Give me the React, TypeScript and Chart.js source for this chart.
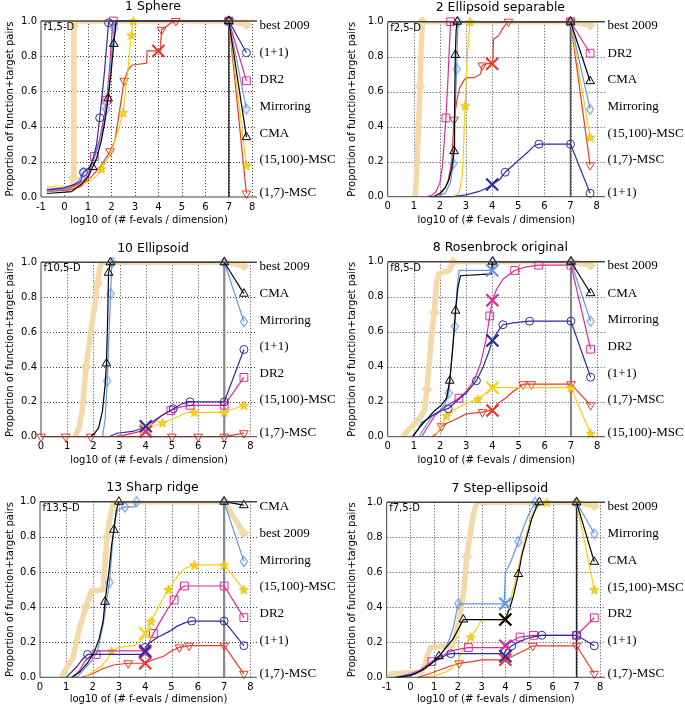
import React, { useEffect, useRef } from 'react';
import { Chart, registerables } from 'chart.js';

Chart.register(...registerables);

type Pt = [number, number];

// ---------- shared data ----------
const Y_TICKS = [0, 0.2, 0.4, 0.6, 0.8, 1.0];
const X_TICKS_M1 = [-1, 0, 1, 2, 3, 4, 5, 6, 7, 8];
const X_TICKS_0 = [0, 1, 2, 3, 4, 5, 6, 7, 8];
const BUDGET_X = 7;      // vertical line / start of right-hand segments
const TAIL_X = 7.75;     // end of right-hand segments
const CROSS_X = 4;       // position of the big crosses
const LABEL_Y = [0.975, 0.82, 0.667, 0.514, 0.362, 0.21, 0.023];
// series order: best 2009, (1+1), DR2, Mirroring, CMA, (15,100)-MSC, (1,7)-MSC

// ---------- f1 Sphere ----------
const F1_BEST: Pt[] = [[-0.75, 0.05], [0.36, 0.05], [0.38, 0.11], [0.4, 0.97], [0.45, 1.0], [7, 1.0]];
const F1_BEST_MK: Pt[] = [[0.38, 0.11], [0.4, 0.97]];
const F1_ONE: Pt[] = [[-0.75, 0.04], [-0.1, 0.05], [0.4, 0.07], [0.69, 0.09], [0.81, 0.14], [1.08, 0.17], [1.22, 0.22], [1.37, 0.3], [1.5, 0.45], [1.62, 0.6], [1.71, 0.72], [1.79, 0.85], [1.88, 0.99], [1.94, 1.0], [7, 1.0]];
const F1_ONE_MK: Pt[] = [[0.81, 0.14], [1.5, 0.45], [1.88, 0.99]];
const F1_DR2: Pt[] = [[-0.75, 0.04], [0.2, 0.05], [0.69, 0.08], [1.0, 0.12], [1.27, 0.23], [1.5, 0.33], [1.68, 0.45], [1.8, 0.55], [1.93, 0.75], [2.02, 0.92], [2.08, 1.0], [7, 1.0]];
const F1_DR2_MK: Pt[] = [[1.27, 0.23], [1.8, 0.55], [2.08, 1.0]];
const F1_MIRR: Pt[] = [[-0.75, 0.03], [0.2, 0.05], [0.59, 0.09], [0.81, 0.14], [1.08, 0.17], [1.27, 0.22], [1.47, 0.3], [1.66, 0.4], [1.78, 0.5], [1.91, 0.65], [2.0, 0.8], [2.12, 0.96], [2.2, 1.0], [7, 1.0]];
const F1_MIRR_MK: Pt[] = [[0.81, 0.14], [1.78, 0.5], [2.12, 0.96]];
const F1_CMA: Pt[] = [[-0.75, 0.02], [0.3, 0.03], [0.49, 0.05], [0.79, 0.08], [1.03, 0.12], [1.2, 0.17], [1.37, 0.22], [1.57, 0.32], [1.71, 0.42], [1.86, 0.56], [1.98, 0.7], [2.1, 0.87], [2.2, 1.0], [7, 1.0]];
const F1_CMA_MK: Pt[] = [[1.2, 0.17], [1.86, 0.56], [2.1, 0.87]];
const F1_M15: Pt[] = [[-0.75, 0.04], [0.2, 0.05], [0.69, 0.07], [1.08, 0.09], [1.37, 0.12], [1.58, 0.16], [1.86, 0.22], [2.1, 0.3], [2.3, 0.38], [2.5, 0.48], [2.6, 0.6], [2.7, 0.72], [2.79, 0.85], [2.85, 0.92], [2.93, 1.0], [7, 1.0]];
const F1_M15_MK: Pt[] = [[1.58, 0.16], [2.5, 0.48], [2.85, 0.92], [2.93, 1.0]];
const F1_M17: Pt[] = [[-0.75, 0.03], [0.2, 0.04], [0.69, 0.06], [1.18, 0.12], [1.57, 0.18], [1.94, 0.26], [2.15, 0.32], [2.3, 0.45], [2.54, 0.66], [2.7, 0.72], [2.88, 0.75], [3.5, 0.76], [3.52, 0.83], [4.07, 0.83], [4.1, 0.88], [4.14, 0.95], [4.35, 0.97], [4.55, 0.99], [4.74, 1.0], [7, 1.0]];
const F1_M17_MK: Pt[] = [[1.94, 0.26], [2.54, 0.66], [4.14, 0.95], [4.74, 1.0]];
const F1_END = [0.98, 0.82, 0.66, 0.5, 0.34, 0.18, 0.02];
const F1_CROSS = [null, null, null, null, null, null, 0.83];
const F1_LABELS = ['best 2009', '(1+1)', 'DR2', 'Mirroring', 'CMA', '(15,100)-MSC', '(1,7)-MSC'];

// ---------- f2 Ellipsoid separable ----------
const F2_BEST: Pt[] = [[1.05, 0.0], [1.1, 0.1], [1.17, 0.35], [1.24, 0.63], [1.28, 0.85], [1.33, 1.0], [7, 1.0]];
const F2_BEST_MK: Pt[] = [[1.24, 0.63], [1.33, 1.0]];
const F2_ONE: Pt[] = [[1.6, 0.0], [2.5, 0.0], [3.0, 0.01], [3.5, 0.03], [3.8, 0.05], [4.0, 0.07], [4.3, 0.1], [4.5, 0.14], [4.8, 0.18], [5.1, 0.22], [5.4, 0.26], [5.6, 0.29], [5.79, 0.3], [7, 0.3]];
const F2_ONE_MK: Pt[] = [[4.5, 0.14], [5.79, 0.3]];
const F2_DR2: Pt[] = [[1.5, 0.0], [1.7, 0.01], [1.85, 0.03], [2.0, 0.08], [2.1, 0.18], [2.23, 0.45], [2.3, 0.65], [2.36, 0.85], [2.41, 1.0], [7, 1.0]];
const F2_DR2_MK: Pt[] = [[2.23, 0.45], [2.41, 1.0]];
const F2_MIRR: Pt[] = [[1.9, 0.0], [2.2, 0.02], [2.4, 0.08], [2.51, 0.19], [2.56, 0.4], [2.64, 0.73], [2.67, 0.9], [2.7, 1.0], [7, 1.0]];
const F2_MIRR_MK: Pt[] = [[2.51, 0.19], [2.64, 0.73], [2.7, 1.0]];
const F2_CMA: Pt[] = [[1.75, 0.0], [2.0, 0.02], [2.2, 0.05], [2.35, 0.1], [2.45, 0.16], [2.54, 0.26], [2.56, 0.5], [2.59, 0.81], [2.62, 0.95], [2.66, 1.0], [7, 1.0]];
const F2_CMA_MK: Pt[] = [[2.54, 0.26], [2.59, 0.81], [2.66, 1.0]];
const F2_M15: Pt[] = [[2.6, 0.0], [2.75, 0.03], [2.85, 0.12], [2.9, 0.25], [2.96, 0.52], [3.05, 0.8], [3.15, 1.0], [7, 1.0]];
const F2_M15_MK: Pt[] = [[2.96, 0.52], [3.15, 1.0]];
const F2_M17: Pt[] = [[1.95, 0.0], [2.1, 0.03], [2.3, 0.08], [2.45, 0.2], [2.54, 0.44], [2.65, 0.55], [2.75, 0.62], [2.9, 0.66], [3.0, 0.68], [3.3, 0.68], [3.55, 0.7], [3.62, 0.75], [3.8, 0.76], [4.02, 0.76], [4.05, 0.9], [4.25, 0.92], [4.4, 0.96], [4.5, 0.98], [4.62, 1.0], [7, 1.0]];
const F2_M17_MK: Pt[] = [[2.54, 0.44], [3.62, 0.75], [4.62, 1.0]];
const F2_END = [0.98, 0.02, 0.82, 0.5, 0.66, 0.34, 0.18];
const F2_CROSS = [null, 0.07, null, null, null, null, 0.76];
const F2_LABELS = ['best 2009', 'DR2', 'CMA', 'Mirroring', '(15,100)-MSC', '(1,7)-MSC', '(1+1)'];

// ---------- f10 Ellipsoid ----------
const F10_BEST: Pt[] = [[1.3, 0.0], [1.45, 0.05], [1.58, 0.15], [1.72, 0.4], [1.9, 0.6], [2.05, 0.75], [2.16, 0.88], [2.25, 0.97], [2.32, 1.0], [7, 1.0]];
const F10_BEST_MK: Pt[] = [[1.72, 0.4], [2.16, 0.88]];
const F10_ONE: Pt[] = [[2.6, 0.0], [2.9, 0.02], [3.5, 0.03], [3.9, 0.05], [4.0, 0.06], [4.3, 0.09], [4.6, 0.12], [5.05, 0.16], [5.4, 0.19], [5.69, 0.2], [7, 0.2]];
const F10_ONE_MK: Pt[] = [[5.05, 0.16], [5.69, 0.2]];
const F10_DR2: Pt[] = [[2.8, 0.0], [3.2, 0.01], [3.8, 0.03], [4.0, 0.04], [4.3, 0.08], [4.6, 0.12], [4.96, 0.15], [5.3, 0.17], [5.69, 0.18], [7, 0.18]];
const F10_DR2_MK: Pt[] = [[4.96, 0.15], [5.69, 0.18]];
const F10_MIRR: Pt[] = [[2.35, 0.0], [2.45, 0.1], [2.53, 0.32], [2.6, 0.6], [2.66, 0.82], [2.7, 0.98], [2.73, 1.0], [7, 1.0]];
const F10_MIRR_MK: Pt[] = [[2.53, 0.32], [2.66, 0.82], [2.73, 1.0]];
const F10_CMA: Pt[] = [[1.9, 0.0], [2.05, 0.02], [2.2, 0.05], [2.35, 0.15], [2.45, 0.3], [2.5, 0.42], [2.55, 0.7], [2.58, 0.94], [2.65, 1.0], [7, 1.0]];
const F10_CMA_MK: Pt[] = [[2.5, 0.42], [2.58, 0.94], [2.65, 1.0]];
const F10_M15: Pt[] = [[3.0, 0.0], [3.5, 0.02], [4.0, 0.04], [4.3, 0.06], [4.64, 0.08], [5.0, 0.1], [5.3, 0.12], [5.6, 0.14], [7, 0.14]];
const F10_M15_MK: Pt[] = [[4.64, 0.08], [5.85, 0.14]];
const F10_M17: Pt[] = [[0, 0], [7, 0]];
const F10_M17_MK: Pt[] = [[0, 0], [0.94, 0], [1.9, 0], [5.0, 0], [6.0, 0]];
const F10_END = [0.98, 0.5, 0.34, 0.66, 0.82, 0.18, 0.02];
const F10_CROSS = [null, 0.06, 0.03, null, null, 0.04, null];
const F10_LABELS = ['best 2009', 'CMA', 'Mirroring', '(1+1)', 'DR2', '(15,100)-MSC', '(1,7)-MSC'];

// ---------- f8 Rosenbrock original ----------
const F8_BEST: Pt[] = [[0.55, 0.0], [0.75, 0.03], [1.0, 0.07], [1.2, 0.1], [1.4, 0.15], [1.5, 0.27], [1.6, 0.45], [1.7, 0.62], [1.78, 0.71], [1.86, 0.88], [1.95, 0.93], [2.35, 0.95], [2.5, 1.0], [7, 1.0]];
const F8_BEST_MK: Pt[] = [[1.5, 0.27], [1.78, 0.71], [2.5, 1.0]];
const F8_ONE: Pt[] = [[0.95, 0.0], [1.15, 0.04], [1.3, 0.08], [1.5, 0.1], [1.8, 0.13], [2.05, 0.15], [2.31, 0.16], [2.6, 0.2], [3.0, 0.25], [3.39, 0.32], [3.65, 0.4], [3.85, 0.48], [4.0, 0.55], [4.2, 0.6], [4.4, 0.64], [4.8, 0.65], [5.42, 0.66], [7, 0.66]];
const F8_ONE_MK: Pt[] = [[2.31, 0.16], [3.39, 0.32], [4.4, 0.64], [5.42, 0.66]];
const F8_DR2: Pt[] = [[1.3, 0.0], [1.5, 0.05], [1.8, 0.12], [2.1, 0.16], [2.4, 0.19], [2.72, 0.22], [3.0, 0.26], [3.3, 0.32], [3.55, 0.42], [3.75, 0.55], [3.9, 0.69], [4.0, 0.78], [4.15, 0.84], [4.4, 0.9], [4.85, 0.95], [5.3, 0.97], [5.77, 0.98], [7, 0.98]];
const F8_DR2_MK: Pt[] = [[2.72, 0.22], [3.9, 0.69], [4.85, 0.95], [5.77, 0.98]];
const F8_MIRR: Pt[] = [[1.2, 0.0], [1.4, 0.05], [1.7, 0.12], [2.0, 0.15], [2.2, 0.19], [2.33, 0.25], [2.45, 0.45], [2.56, 0.63], [2.65, 0.85], [2.73, 0.95], [4.0, 0.95], [4.02, 1.0], [7, 1.0]];
const F8_MIRR_MK: Pt[] = [[2.33, 0.25], [2.56, 0.63], [4.02, 1.0]];
const F8_CMA: Pt[] = [[0.95, 0.0], [1.2, 0.05], [1.5, 0.1], [1.8, 0.15], [2.05, 0.18], [2.25, 0.22], [2.37, 0.32], [2.48, 0.5], [2.59, 0.72], [2.68, 0.85], [2.78, 0.92], [3.96, 0.93], [4.0, 1.0], [7, 1.0]];
const F8_CMA_MK: Pt[] = [[2.37, 0.32], [2.59, 0.72], [4.0, 1.0]];
const F8_M15: Pt[] = [[1.8, 0.0], [2.0, 0.05], [2.25, 0.12], [2.6, 0.16], [3.0, 0.19], [3.45, 0.215], [3.75, 0.25], [4.0, 0.28], [7, 0.28]];
const F8_M15_MK: Pt[] = [[2.25, 0.12], [3.45, 0.215]];
const F8_M17: Pt[] = [[1.7, 0.0], [1.95, 0.03], [2.06, 0.06], [2.3, 0.08], [2.6, 0.1], [3.0, 0.13], [3.62, 0.14], [3.9, 0.15], [4.0, 0.15], [4.2, 0.19], [4.5, 0.22], [4.8, 0.26], [5.0, 0.28], [5.17, 0.3], [7, 0.3]];
const F8_M17_MK: Pt[] = [[2.06, 0.06], [3.62, 0.14], [5.17, 0.3], [5.49, 0.3]];
const F8_END = [0.98, 0.34, 0.5, 0.66, 0.82, 0.02, 0.18];
const F8_CROSS = [null, 0.55, 0.78, 0.95, null, 0.28, 0.15];
const F8_LABELS = ['best 2009', 'CMA', 'Mirroring', 'DR2', '(1+1)', '(1,7)-MSC', '(15,100)-MSC'];

// ---------- f13 Sharp ridge ----------
const F13_BEST: Pt[] = [[0.8, 0.0], [1.0, 0.05], [1.25, 0.11], [1.5, 0.28], [1.75, 0.4], [1.95, 0.49], [2.4, 0.5], [2.45, 0.6], [2.55, 0.8], [2.65, 0.9], [2.8, 1.0], [7, 1.0]];
const F13_BEST_MK: Pt[] = [[1.75, 0.4], [2.55, 0.8]];
const F13_ONE: Pt[] = [[1.0, 0.0], [1.2, 0.03], [1.4, 0.06], [1.6, 0.1], [1.81, 0.13], [3.95, 0.13], [4.0, 0.17], [4.2, 0.2], [4.5, 0.23], [4.9, 0.26], [5.2, 0.29], [5.5, 0.31], [5.77, 0.32], [7, 0.32]];
const F13_ONE_MK: Pt[] = [[1.81, 0.13], [4.0, 0.17], [5.77, 0.32]];
const F13_DR2: Pt[] = [[1.3, 0.0], [1.5, 0.04], [1.7, 0.09], [1.9, 0.12], [2.13, 0.13], [2.2, 0.15], [4.0, 0.15], [4.15, 0.2], [4.31, 0.25], [4.5, 0.3], [4.7, 0.35], [4.9, 0.4], [5.1, 0.44], [5.3, 0.5], [5.49, 0.52], [7, 0.52]];
const F13_DR2_MK: Pt[] = [[2.13, 0.13], [4.31, 0.25], [5.1, 0.44], [5.49, 0.52]];
const F13_MIRR: Pt[] = [[1.4, 0.0], [1.7, 0.05], [2.0, 0.1], [2.2, 0.16], [2.4, 0.3], [2.55, 0.45], [2.64, 0.54], [2.75, 0.75], [2.85, 0.9], [2.95, 0.95], [3.23, 0.97], [3.6, 0.97], [3.67, 1.0], [7, 1.0]];
const F13_MIRR_MK: Pt[] = [[2.64, 0.54], [3.23, 0.97], [3.67, 1.0]];
const F13_CMA: Pt[] = [[1.2, 0.0], [1.5, 0.03], [1.8, 0.08], [2.05, 0.14], [2.25, 0.22], [2.4, 0.32], [2.47, 0.43], [2.62, 0.6], [2.72, 0.75], [2.81, 0.84], [2.9, 0.95], [3.0, 1.0], [7, 1.0]];
const F13_CMA_MK: Pt[] = [[2.47, 0.43], [2.81, 0.84], [3.0, 1.0]];
const F13_M15: Pt[] = [[1.7, 0.0], [2.0, 0.03], [2.3, 0.06], [2.55, 0.1], [2.72, 0.15], [3.0, 0.17], [3.6, 0.18], [3.85, 0.21], [4.0, 0.25], [4.22, 0.32], [4.5, 0.4], [4.88, 0.5], [5.2, 0.57], [5.5, 0.62], [5.87, 0.64], [7, 0.64]];
const F13_M15_MK: Pt[] = [[2.72, 0.15], [4.22, 0.32], [4.88, 0.5], [5.87, 0.64]];
const F13_M17: Pt[] = [[1.6, 0.0], [2.0, 0.02], [2.4, 0.05], [2.8, 0.07], [3.35, 0.08], [4.0, 0.08], [4.3, 0.1], [4.7, 0.12], [5.0, 0.15], [5.3, 0.17], [5.67, 0.18], [7, 0.18]];
const F13_M17_MK: Pt[] = [[3.35, 0.08], [5.3, 0.17], [5.67, 0.18]];
const F13_END = [0.82, 0.18, 0.34, 0.66, 0.98, 0.5, 0.02];
const F13_CROSS = [null, 0.15, 0.14, null, null, 0.25, 0.08];
const F13_LABELS = ['CMA', 'best 2009', 'Mirroring', '(15,100)-MSC', 'DR2', '(1+1)', '(1,7)-MSC'];

// ---------- f7 Step-ellipsoid ----------
const F7_BEST: Pt[] = [[-0.85, 0.0], [-0.8, 0.02], [0.45, 0.03], [0.6, 0.06], [0.7, 0.12], [0.85, 0.17], [1.75, 0.18], [1.95, 0.25], [2.1, 0.36], [2.25, 0.5], [2.38, 0.69], [2.5, 0.8], [2.65, 0.93], [2.8, 1.0], [7, 1.0]];
const F7_BEST_MK: Pt[] = [[2.38, 0.69]];
const F7_ONE: Pt[] = [[-0.5, 0.0], [0.2, 0.02], [0.6, 0.05], [1.0, 0.09], [1.3, 0.11], [1.55, 0.13], [1.7, 0.135], [3.95, 0.135], [4.0, 0.15], [4.27, 0.18], [4.7, 0.21], [5.1, 0.23], [5.54, 0.24], [7, 0.24]];
const F7_ONE_MK: Pt[] = [[1.7, 0.135], [4.27, 0.18], [5.54, 0.24]];
const F7_DR2: Pt[] = [[-0.6, 0.0], [0.0, 0.02], [0.4, 0.04], [0.7, 0.07], [0.9, 0.09], [1.3, 0.12], [1.7, 0.15], [2.0, 0.16], [2.44, 0.17], [3.95, 0.17], [4.0, 0.18], [4.2, 0.2], [4.45, 0.22], [4.62, 0.23], [5.19, 0.24], [7, 0.24]];
const F7_DR2_MK: Pt[] = [[0.9, 0.09], [2.44, 0.17], [4.62, 0.23], [5.19, 0.24]];
const F7_MIRR: Pt[] = [[-0.75, 0.0], [-0.2, 0.01], [0.3, 0.03], [0.7, 0.06], [1.0, 0.1], [1.3, 0.13], [1.6, 0.2], [1.8, 0.28], [1.95, 0.38], [2.02, 0.42], [3.95, 0.42], [4.0, 0.6], [4.2, 0.65], [4.4, 0.72], [4.55, 0.775], [4.75, 0.85], [4.95, 0.92], [5.1, 0.96], [5.26, 1.0], [7, 1.0]];
const F7_MIRR_MK: Pt[] = [[2.02, 0.42], [4.55, 0.775], [5.26, 1.0]];
const F7_CMA: Pt[] = [[-0.6, 0.0], [0.0, 0.01], [0.5, 0.04], [0.9, 0.08], [1.2, 0.12], [1.5, 0.17], [1.8, 0.22], [2.0, 0.27], [2.23, 0.33], [3.95, 0.33], [4.05, 0.35], [4.2, 0.4], [4.35, 0.47], [4.55, 0.59], [4.7, 0.7], [4.9, 0.8], [5.1, 0.9], [5.3, 0.97], [5.43, 1.0], [7, 1.0]];
const F7_CMA_MK: Pt[] = [[1.2, 0.12], [2.23, 0.33], [4.55, 0.59], [5.43, 1.0]];
const F7_M15: Pt[] = [[0.5, 0.0], [1.0, 0.01], [1.5, 0.03], [1.74, 0.05], [2.02, 0.1], [2.3, 0.18], [2.54, 0.23], [2.8, 0.28], [3.0, 0.33], [4.0, 0.33], [4.1, 0.38], [4.27, 0.47], [4.5, 0.6], [4.7, 0.72], [4.9, 0.82], [5.12, 0.93], [5.4, 0.98], [5.75, 1.0], [7, 1.0]];
const F7_M15_MK: Pt[] = [[2.54, 0.23], [5.75, 1.0]];
const F7_M17: Pt[] = [[0.3, 0.0], [0.8, 0.02], [1.2, 0.04], [1.6, 0.06], [2.05, 0.08], [2.6, 0.09], [3.0, 0.1], [4.0, 0.1], [4.3, 0.12], [4.6, 0.14], [4.9, 0.16], [5.16, 0.18], [7, 0.18]];
const F7_M17_MK: Pt[] = [[2.05, 0.08], [5.16, 0.18]];
const F7_END = [0.98, 0.18, 0.34, 0.82, 0.66, 0.5, 0.02];
const F7_CROSS = [null, 0.12, 0.18, 0.42, 0.33, 0.33, 0.1];
const F7_LABELS = ['best 2009', 'Mirroring', 'CMA', '(15,100)-MSC', 'DR2', '(1+1)', '(1,7)-MSC'];

// ---------- styles ----------
const KEYS = ['best', 'one', 'dr2', 'mirr', 'cma', 'm15', 'm17'] as const;
const STYLE: Record<string, any> = {
  best: { color: '#f4d9a9', lw: 5.5, r: 5, order: 100 },
  one: { color: '#2d2d9f', lw: 1.2, r: 4, order: 4 },
  dr2: { color: '#db2b98', lw: 1.2, r: 5.5, order: 6 },
  mirr: { color: '#6495e6', lw: 1.2, r: 5, order: 5 },
  cma: { color: '#000000', lw: 1.2, r: 5, order: 3 },
  m15: { color: '#f9cf10', lw: 1.2, r: 5, order: 7 },
  m17: { color: '#e83a2a', lw: 1.2, r: 5, order: 8 },
};

const SANS = '"DejaVu Sans", sans-serif';
const SERIF = '"Liberation Serif", "DejaVu Serif", serif';

interface PanelCfg {
  title: string;
  tag: string;
  xMin: number;
  xMax: number;
  xTicks: number[];
  lines: Pt[][];
  marks: Pt[][];
  end: number[];
  cross: (number | null)[];
  labels: string[];
  vColor: string;
  vWidth: number;
  box: { x: number; y: number; w: number; h: number; yw: number; rp: number; tp: number; xh: number };
}

const PANELS: PanelCfg[] = [
  {
    title: '1 Sphere', tag: 'f1,5-D', xMin: -1, xMax: 8.2, xTicks: X_TICKS_M1,
    lines: [F1_BEST, F1_ONE, F1_DR2, F1_MIRR, F1_CMA, F1_M15, F1_M17],
    marks: [F1_BEST_MK, F1_ONE_MK, F1_DR2_MK, F1_MIRR_MK, F1_CMA_MK, F1_M15_MK, F1_M17_MK],
    end: F1_END, cross: F1_CROSS, labels: F1_LABELS, vColor: '#222', vWidth: 1.4,
    box: { x: 0, y: 0, w: 342, h: 230, yw: 41, rp: 85, tp: 21, xh: 33 },
  },
  {
    title: '2 Ellipsoid separable', tag: 'f2,5-D', xMin: 0, xMax: 8.32, xTicks: X_TICKS_0,
    lines: [F2_BEST, F2_ONE, F2_DR2, F2_MIRR, F2_CMA, F2_M15, F2_M17],
    marks: [F2_BEST_MK, F2_ONE_MK, F2_DR2_MK, F2_MIRR_MK, F2_CMA_MK, F2_M15_MK, F2_M17_MK],
    end: F2_END, cross: F2_CROSS, labels: F2_LABELS, vColor: '#555', vWidth: 1.6,
    box: { x: 342, y: 0, w: 343, h: 230, yw: 45.7, rp: 80, tp: 21.7, xh: 33.3 },
  },
  {
    title: '10 Ellipsoid', tag: 'f10,5-D', xMin: 0, xMax: 8.25, xTicks: X_TICKS_0,
    lines: [F10_BEST, F10_ONE, F10_DR2, F10_MIRR, F10_CMA, F10_M15, F10_M17],
    marks: [F10_BEST_MK, F10_ONE_MK, F10_DR2_MK, F10_MIRR_MK, F10_CMA_MK, F10_M15_MK, F10_M17_MK],
    end: F10_END, cross: F10_CROSS, labels: F10_LABELS, vColor: '#888', vWidth: 2.2,
    box: { x: 0, y: 230, w: 342, h: 240, yw: 41, rp: 85, tp: 32.3, xh: 33.3 },
  },
  {
    title: '8 Rosenbrock original', tag: 'f8,5-D', xMin: 0, xMax: 8.3, xTicks: X_TICKS_0,
    lines: [F8_BEST, F8_ONE, F8_DR2, F8_MIRR, F8_CMA, F8_M15, F8_M17],
    marks: [F8_BEST_MK, F8_ONE_MK, F8_DR2_MK, F8_MIRR_MK, F8_CMA_MK, F8_M15_MK, F8_M17_MK],
    end: F8_END, cross: F8_CROSS, labels: F8_LABELS, vColor: '#888', vWidth: 2.2,
    box: { x: 342, y: 230, w: 343, h: 240, yw: 45.7, rp: 80, tp: 31.7, xh: 33.3 },
  },
  {
    title: '13 Sharp ridge', tag: 'f13,5-D', xMin: 0, xMax: 8.25, xTicks: X_TICKS_0,
    lines: [F13_BEST, F13_ONE, F13_DR2, F13_MIRR, F13_CMA, F13_M15, F13_M17],
    marks: [F13_BEST_MK, F13_ONE_MK, F13_DR2_MK, F13_MIRR_MK, F13_CMA_MK, F13_M15_MK, F13_M17_MK],
    end: F13_END, cross: F13_CROSS, labels: F13_LABELS, vColor: '#888', vWidth: 2.2,
    box: { x: 0, y: 470, w: 342, h: 239, yw: 40, rp: 85, tp: 31.7, xh: 31.7 },
  },
  {
    title: '7 Step-ellipsoid', tag: 'f7,5-D', xMin: -1, xMax: 8.2, xTicks: X_TICKS_M1,
    lines: [F7_BEST, F7_ONE, F7_DR2, F7_MIRR, F7_CMA, F7_M15, F7_M17],
    marks: [F7_BEST_MK, F7_ONE_MK, F7_DR2_MK, F7_MIRR_MK, F7_CMA_MK, F7_M15_MK, F7_M17_MK],
    end: F7_END, cross: F7_CROSS, labels: F7_LABELS, vColor: '#222', vWidth: 1.4,
    box: { x: 342, y: 470, w: 343, h: 239, yw: 44.7, rp: 80, tp: 32.3, xh: 31.7 },
  },
];

// ---------- marker images ----------
function makeStar(fill: string, stroke: string): HTMLCanvasElement {
  const c = document.createElement('canvas');
  c.width = 11; c.height = 11;
  const g = c.getContext('2d')!;
  g.beginPath();
  for (let i = 0; i < 10; i++) {
    const r = i % 2 === 0 ? 4.8 : 2.0;
    const a = -Math.PI / 2 + (i * Math.PI) / 5;
    const px = 5.5 + r * Math.cos(a);
    const py = 6 + r * Math.sin(a);
    if (i === 0) g.moveTo(px, py); else g.lineTo(px, py);
  }
  g.closePath();
  g.fillStyle = fill; g.fill();
  g.strokeStyle = stroke; g.lineWidth = 0.7; g.stroke();
  return c;
}
function makeThinDiamond(stroke: string): HTMLCanvasElement {
  const c = document.createElement('canvas');
  c.width = 10; c.height = 13;
  const g = c.getContext('2d')!;
  g.beginPath();
  g.moveTo(5, 1.5); g.lineTo(8.5, 6.5); g.lineTo(5, 11.5); g.lineTo(1.5, 6.5); g.closePath();
  g.strokeStyle = stroke; g.lineWidth = 1.1; g.stroke();
  return c;
}

const xy = (p: Pt) => ({ x: p[0], y: p[1] });

function buildConfig(p: PanelCfg): any {
  const star = makeStar('#ffd400', '#d8ae00');
  const thinDia = makeThinDiamond(STYLE.mirr.color);
  const markerFor = (k: string): any => {
    switch (k) {
      case 'best': return { pointStyle: 'rectRot', pointBackgroundColor: STYLE.best.color, pointRotation: 0 };
      case 'one': return { pointStyle: 'circle', pointBackgroundColor: 'rgba(0,0,0,0)', pointRotation: 0 };
      case 'dr2': return { pointStyle: 'rect', pointBackgroundColor: 'rgba(0,0,0,0)', pointRotation: 0 };
      case 'mirr': return { pointStyle: thinDia, pointBackgroundColor: 'rgba(0,0,0,0)', pointRotation: 0 };
      case 'cma': return { pointStyle: 'triangle', pointBackgroundColor: 'rgba(0,0,0,0)', pointRotation: 0 };
      case 'm15': return { pointStyle: star, pointBackgroundColor: STYLE.m15.color, pointRotation: 0 };
      default: return { pointStyle: 'triangle', pointBackgroundColor: 'rgba(0,0,0,0)', pointRotation: 180 };
    }
  };

  const datasets: any[] = [];
  datasets.push({
    data: [{ x: BUDGET_X, y: 0 }, { x: BUDGET_X, y: 1 }],
    borderColor: p.vColor, borderWidth: p.vWidth, pointRadius: 0, order: 50, clip: 0,
  });
  KEYS.forEach((k, i) => {
    const st = STYLE[k];
    const line = p.lines[i];
    const mk = markerFor(k);
    datasets.push({
      data: line.map(xy), showLine: true, borderColor: st.color, borderWidth: st.lw,
      pointRadius: 0, order: st.order, clip: k === 'best' ? 0 : false,
      borderJoinStyle: 'miter',
    });
    datasets.push({
      data: p.marks[i].map(xy), showLine: false, pointRadius: st.r, pointBorderColor: st.color,
      pointBorderWidth: 1, ...mk, order: st.order - 0.5, clip: false,
    });
    const last = line[line.length - 1];
    datasets.push({
      data: [{ x: BUDGET_X, y: last[1] }, { x: TAIL_X, y: p.end[i] }], showLine: true,
      borderColor: st.color, borderWidth: k === 'best' ? st.lw : 1.2, pointRadius: st.r,
      pointBorderColor: st.color, pointBorderWidth: 1, ...mk, order: st.order - 0.5, clip: false,
    });
    const c = p.cross[i];
    if (c !== null && c !== undefined) {
      datasets.push({
        data: [{ x: CROSS_X, y: c }], showLine: false, pointStyle: 'crossRot', pointRadius: 8.5,
        pointBorderWidth: 2.2, pointBorderColor: st.color, order: st.order - 20, clip: false,
      });
    }
  });

  const decor = {
    id: 'decor',
    beforeDatasetsDraw(chart: any) {
      const { ctx, chartArea: a, scales } = chart;
      ctx.save();
      ctx.strokeStyle = 'rgba(0,0,0,0.75)';
      ctx.lineWidth = 1;
      ctx.setLineDash([1, 2]);
      for (const v of p.xTicks) {
        if (v <= p.xMin) continue;
        const px = Math.round(scales.x.getPixelForValue(v)) + 0.5;
        ctx.beginPath(); ctx.moveTo(px, a.top); ctx.lineTo(px, a.bottom); ctx.stroke();
      }
      for (const v of Y_TICKS) {
        if (v <= 0 || v >= 1) continue;
        const py = Math.round(scales.y.getPixelForValue(v)) + 0.5;
        ctx.beginPath(); ctx.moveTo(a.left, py); ctx.lineTo(a.right, py); ctx.stroke();
      }
      ctx.restore();
    },
    afterDatasetsDraw(chart: any) {
      const { ctx, chartArea: a, scales } = chart;
      ctx.save();
      ctx.setLineDash([]);
      ctx.strokeStyle = '#444';
      ctx.lineWidth = 1;
      ctx.beginPath();
      ctx.moveTo(a.left, a.top); ctx.lineTo(a.left, a.bottom); ctx.lineTo(a.right, a.bottom);
      ctx.stroke();
      ctx.lineWidth = 1.6;
      ctx.beginPath(); ctx.moveTo(a.left, a.top); ctx.lineTo(a.right, a.top); ctx.stroke();

      ctx.fillStyle = '#000';
      ctx.font = `12.5px ${SANS}`;
      ctx.textAlign = 'center';
      ctx.textBaseline = 'middle';
      ctx.fillText(p.title, (a.left + a.right) / 2 + 4, a.top - 14);

      ctx.font = `10px ${SANS}`;
      ctx.textAlign = 'left';
      ctx.fillText(p.tag, a.left + 2.5, a.top + 6.5);

      ctx.font = `13px ${SERIF}`;
      p.labels.forEach((t, i) => {
        ctx.fillText(t, a.right + 2.5, scales.y.getPixelForValue(LABEL_Y[i]));
      });
      ctx.restore();
    },
  };

  const tickFont = { family: SANS, size: 10 };
  return {
    type: 'line',
    data: { datasets },
    options: {
      responsive: false,
      animation: false,
      events: [],
      parsing: true,
      layout: { padding: { left: 0, right: p.box.rp, top: p.box.tp, bottom: 0 } },
      plugins: { legend: { display: false }, tooltip: { enabled: false }, title: { display: false } },
      scales: {
        x: {
          type: 'linear', min: p.xMin, max: p.xMax,
          afterBuildTicks: (s: any) => { s.ticks = p.xTicks.map((v) => ({ value: v })); },
          afterFit: (s: any) => { s.height = p.box.xh; },
          grid: { display: false, drawTicks: false },
          border: { display: false },
          ticks: { font: tickFont, color: '#000', padding: 4, autoSkip: false, maxRotation: 0, callback: (v: any) => String(v) },
          title: { display: true, text: 'log10 of (# f-evals / dimension)', font: tickFont, color: '#000', padding: { top: 0, bottom: 4 } },
        },
        y: {
          type: 'linear', min: 0, max: 1,
          afterBuildTicks: (s: any) => { s.ticks = Y_TICKS.map((v) => ({ value: v })); },
          afterFit: (s: any) => { s.width = p.box.yw; },
          grid: { display: false, drawTicks: false },
          border: { display: false },
          ticks: { font: tickFont, color: '#000', padding: 4, autoSkip: false, callback: (v: any) => Number(v).toFixed(1) },
          title: { display: true, text: 'Proportion of function+target pairs', font: tickFont, color: '#000', padding: { top: 4, bottom: 0 } },
        },
      },
    },
    plugins: [decor],
  };
}

function Panel({ p }: { p: PanelCfg }) {
  const ref = useRef<HTMLCanvasElement | null>(null);
  useEffect(() => {
    if (!ref.current) return;
    const chart = new Chart(ref.current, buildConfig(p));
    return () => chart.destroy();
  }, [p]);
  return (
    <canvas
      ref={ref}
      width={p.box.w}
      height={p.box.h}
      style={{ position: 'absolute', left: p.box.x, top: p.box.y, width: p.box.w, height: p.box.h }}
    />
  );
}

export default function App() {
  return (
    <div style={{ position: 'absolute', left: 0, top: 0, width: 685, height: 713, background: '#fff', overflow: 'hidden' }}>
      {PANELS.map((p) => (
        <Panel key={p.tag} p={p} />
      ))}
    </div>
  );
}
